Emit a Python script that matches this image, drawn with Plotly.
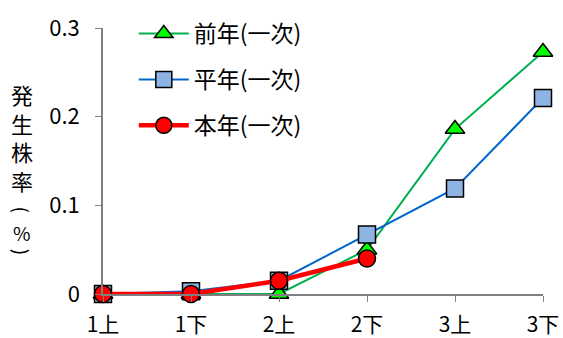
import plotly.graph_objects as go

periods = ['1上', '1下', '2上', '2下', '3上', '3下']
prev_year = [0, 0, 0, 0.05, 0.186, 0.273]
normal_year = [0, 0.003, 0.015, 0.067, 0.119, 0.221]
this_year = [0, 0, 0.015, 0.04]

FONT = 'Noto Sans CJK JP'

plot_left, plot_right, plot_top, plot_bottom = 103, 543, 23, 294

fig = go.Figure()
fig.add_trace(go.Scatter(
    x=periods, y=prev_year, name='前年(一次)', mode='lines+markers',
    line=dict(color='#00B050', width=2),
    marker=dict(symbol='triangle-up', size=17, color='#00FF00',
                line=dict(color='black', width=1.5)),
    legendgroup='a', cliponaxis=False))
fig.add_trace(go.Scatter(
    x=periods, y=normal_year, name='平年(一次)', mode='lines+markers',
    line=dict(color='#0066CC', width=2),
    marker=dict(symbol='square', size=17, color='#8EB4E3',
                line=dict(color='black', width=1.5)),
    legendgroup='b', cliponaxis=False))
fig.add_trace(go.Scatter(
    x=periods[:len(this_year)], y=this_year, name='本年(一次)', mode='lines+markers',
    line=dict(color='#FF0000', width=4.5),
    marker=dict(symbol='circle', size=17, color='#FF0000',
                line=dict(color='black', width=1.5)),
    legendgroup='c', cliponaxis=False))

fig.update_layout(
    width=563, height=338,
    margin=dict(l=plot_left, r=563 - plot_right, t=plot_top, b=338 - plot_bottom),
    plot_bgcolor='white', paper_bgcolor='white',
    font=dict(family=FONT, size=22, color='black'),
    showlegend=True,
    legend=dict(x=0.07, y=1.06, xanchor='left', yanchor='top',
                bgcolor='rgba(0,0,0,0)', tracegroupgap=13, itemwidth=50,
                font=dict(family=FONT, size=23)),
    xaxis=dict(type='category', range=[0, 5], showline=True,
               linecolor='#808080', linewidth=1.5, ticks='outside',
               ticklen=6, tickcolor='#808080', showgrid=False,
               tickfont=dict(size=21), ticklabelstandoff=5,
               zeroline=False, automargin=False),
    yaxis=dict(range=[0, 0.3], showline=True, linecolor='#808080',
               linewidth=1.5, ticks='outside', ticklen=6, tickcolor='#808080',
               tickvals=[0, 0.1, 0.2, 0.3], ticktext=['0', '0.1', '0.2', '0.3'],
               showgrid=False, zeroline=False, ticklabelstandoff=11,
               automargin=False),
)


def to_paper(px, py):
    return ((px - plot_left) / (plot_right - plot_left),
            (plot_bottom - py) / (plot_bottom - plot_top))


# vertical y-axis title: stacked kanji, then rotated brackets around %
ax, ay = to_paper(22, 134)
fig.add_annotation(text='発<br>生<br>株<br>率', xref='paper', yref='paper',
                   x=ax, y=ay, xanchor='center', yanchor='middle',
                   showarrow=False, font=dict(family=FONT, size=22))
for ch, row, angle in [('(', 208, 90), ('%', 231, 0), (')', 251, 90)]:
    ax, ay = to_paper(22, row)
    fig.add_annotation(text=ch, xref='paper', yref='paper', x=ax, y=ay,
                       xanchor='center', yanchor='middle', showarrow=False,
                       textangle=angle, font=dict(family=FONT, size=19))

fig.write_html('out.html', config={'displayModeBar': False},
               post_script="document.body.style.margin='0';")
